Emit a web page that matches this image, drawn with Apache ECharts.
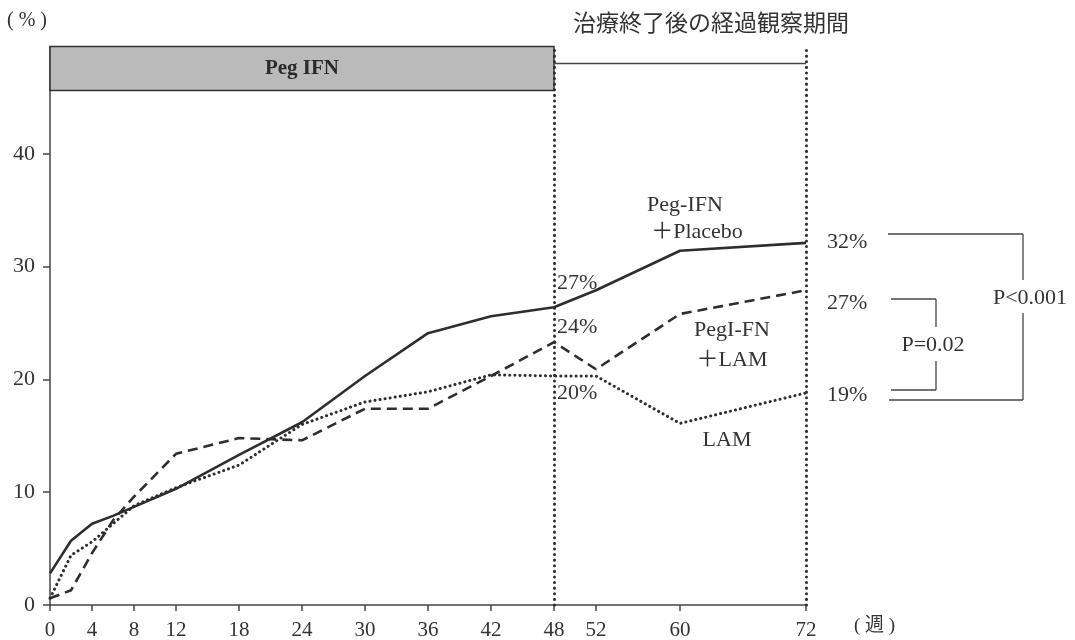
<!DOCTYPE html>
<html><head><meta charset="utf-8">
<script src="https://cdn.jsdelivr.net/npm/echarts@6/dist/echarts.min.js"></script>
<style>html,body{margin:0;padding:0;background:#fff}#c{width:1075px;height:640px}</style>
</head><body><div id="c"></div>
<script>
const xTicks = [0,4,8,12,18,24,30,36,42,48,52,60,72];
const yTicks = [0,10,20,30,40];
const weeks = [0,2,4,6,8,12,18,24,30,36,42,48,52,60,72];
const pegPlacebo = [2.8,5.7,7.2,7.9,8.7,10.3,13.3,16.2,20.3,24.1,25.6,26.4,27.9,31.4,32.1];
const pegLam     = [0.6,1.3,4.6,7.5,9.6,13.4,14.8,14.6,17.4,17.4,20.3,23.3,20.9,25.8,27.9];
const lam        = [0.6,4.4,5.6,7.2,8.8,10.4,12.4,16.0,18.0,18.9,20.4,20.3,20.3,16.1,18.8];
const treatEnd = 48, followEnd = 72;
const pct48 = ['27%','24%','20%'];
const pct72 = ['32%','27%','19%'];
const pLabels = ['P<0.001','P=0.02'];

const serif = '"Liberation Serif","Noto Sans CJK JP",serif';
const ink = '#2e2e2e';
const pair = arr => weeks.map((w,i)=>[w,arr[i]]);

const chart = echarts.init(document.getElementById('c'));
const txt = (x,y,t,align,size,font) => ({type:'text', x:x, y:y, style:{text:t, fill:'#333', font:(size||22)+'px '+(font||serif), align:align||'left', verticalAlign:'middle'}});
const ln = (x1,y1,x2,y2) => ({type:'line', shape:{x1:x1,y1:y1,x2:x2,y2:y2}, style:{stroke:'#444', lineWidth:1.3}});

chart.setOption({
  animation:false,
  grid:{left:50, right:269, top:46.6, bottom:35, outerBoundsMode:'none', containLabel:false},
  xAxis:{type:'value', min:0, max:72,
    axisLine:{lineStyle:{color:'#444', width:1.5}},
    axisTick:{customValues:xTicks, length:6, lineStyle:{color:'#444', width:1.5}},
    axisLabel:{customValues:xTicks, margin:15, fontFamily:serif, fontSize:21, color:'#333'},
    splitLine:{show:false}},
  yAxis:{type:'value', min:0, max:49.5, interval:10,
    name:'( % )', nameLocation:'end', nameGap:16,
    nameTextStyle:{fontFamily:serif, fontSize:20, color:'#333', align:'right', padding:[0,3,0,0]},
    axisLine:{show:true, lineStyle:{color:'#444', width:1.5}},
    axisTick:{show:true, customValues:yTicks, length:7, lineStyle:{color:'#444', width:1.5}},
    axisLabel:{customValues:yTicks, margin:15, fontFamily:serif, fontSize:22, color:'#333'},
    splitLine:{show:false}},
  series:[
    {type:'line', name:'Peg-IFN＋Placebo', data:pair(pegPlacebo), symbol:'none', z:5,
     lineStyle:{color:ink, width:2.6},
     markArea:{silent:true, itemStyle:{color:'#bababa', borderColor:'#333', borderWidth:1.5},
       label:{show:true, position:'inside', color:'#2a2a2a', fontFamily:serif, fontSize:21, fontWeight:'bold', formatter:'Peg IFN'},
       data:[[{xAxis:0, yAxis:45.6},{xAxis:treatEnd, yAxis:49.5}]]},
     markLine:{silent:true, symbol:'none', label:{show:false},
       lineStyle:{color:ink, type:[0.1,5.5], width:3, cap:'round'},
       data:[{xAxis:treatEnd},{xAxis:followEnd}]}},
    {type:'line', name:'PegI-FN＋LAM', data:pair(pegLam), symbol:'none', z:4,
     lineStyle:{color:ink, width:2.6, type:[10,6]},
     markLine:{silent:true, symbol:'none', label:{show:false},
       lineStyle:{color:'#444', type:'solid', width:1.3},
       data:[[{coord:[treatEnd,48.0]},{coord:[followEnd,48.0]}]]}},
    {type:'line', name:'LAM', data:pair(lam), symbol:'none', z:3,
     lineStyle:{color:ink, width:3, type:[0.1,5], cap:'round'}}
  ],
  graphic:[
    txt(573,22,'治療終了後の経過観察期間','left',23,'"Noto Sans CJK JP"'),
    txt(854,626,'( 週 )','left',19),
    txt(557,283,pct48[0]), txt(557,327,pct48[1]), txt(557,393,pct48[2]),
    txt(685,205,'Peg-IFN','center'), txt(697,232,'＋Placebo','center'),
    txt(732,330,'PegI-FN','center'), txt(732,360,'＋LAM','center'),
    txt(727,440,'LAM','center'),
    txt(827,242,pct72[0]), txt(827,303,pct72[1]), txt(827,395,pct72[2]),
    ln(888,234,1023,234), ln(1023,234,1023,280), ln(1023,313,1023,400), ln(889,400,1023,400),
    ln(891,299,936,299), ln(936,299,936,327), ln(936,361,936,390), ln(891,390,936,390),
    txt(1030,298,pLabels[0],'center'), txt(933,345,pLabels[1],'center')
  ]
});
</script></body></html>
